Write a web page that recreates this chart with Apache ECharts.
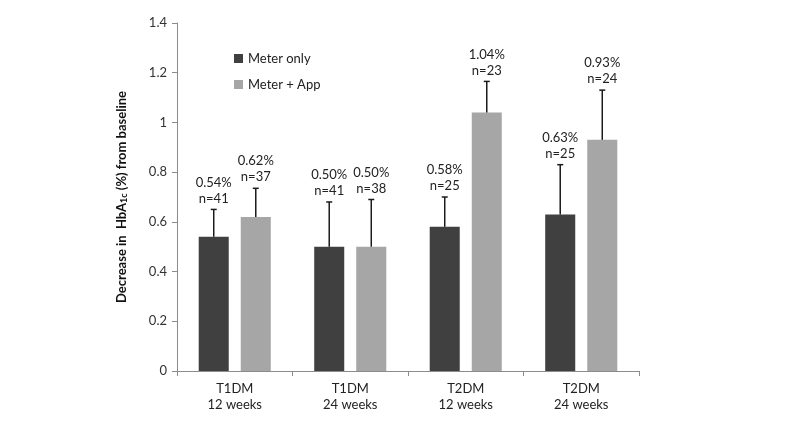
<!DOCTYPE html>
<html><head><meta charset="utf-8">
<script src="https://cdn.jsdelivr.net/npm/echarts@6/dist/echarts.min.js"></script>
<style>html,body{margin:0;padding:0;background:#fff}#c{width:794px;height:428px}</style>
</head><body><div id="c"></div>
<script>
var categories = ['T1DM\n12 weeks', 'T1DM\n24 weeks', 'T2DM\n12 weeks', 'T2DM\n24 weeks'];
var seriesNames = ['Meter only', 'Meter + App'];
var meterOnly = [0.54, 0.50, 0.58, 0.63];
var meterApp = [0.62, 0.50, 1.04, 0.93];
var meterOnlyErr = [0.11, 0.18, 0.12, 0.20];
var meterAppErr = [0.115, 0.19, 0.125, 0.20];
var meterOnlyN = [41, 41, 25, 25];
var meterAppN = [37, 38, 23, 24];
var yTicks = [0, 0.2, 0.4, 0.6, 0.8, 1, 1.2, 1.4];

var FONT = 'Lato';
var BARW = 0.26, GAP = 0.40;
var colors = ['#404040', '#a6a6a6'];

function errSeries(vals, errs, ns, sign) {
  return {
    type: 'custom',
    z: 5,
    data: vals.map(function (v, i) { return [i, v, errs[i], ns[i]]; }),
    renderItem: function (params, api) {
      var i = api.value(0), v = api.value(1), e = api.value(2), n = api.value(3);
      var band = api.size([1, 0])[0];
      var bw = band * BARW;
      var off = sign * (bw + bw * GAP) / 2;
      var p0 = api.coord([i, v]);
      var p1 = api.coord([i, v + e]);
      var x = p0[0] + off;
      return {
        type: 'group',
        children: [
          { type: 'line', shape: { x1: x, y1: p0[1], x2: x, y2: p1[1] }, style: { stroke: '#1a1a1a', lineWidth: 1.5 } },
          { type: 'line', shape: { x1: x - 3, y1: p1[1], x2: x + 3, y2: p1[1] }, style: { stroke: '#1a1a1a', lineWidth: 1.5 } },
          { type: 'text', style: { x: x, y: p1[1] - 3, text: v.toFixed(2) + '%\nn=' + n, textAlign: 'center', textVerticalAlign: 'bottom', fontFamily: FONT, fontSize: 13, lineHeight: 16, fill: '#222' } }
        ]
      };
    }
  };
}

var chart = echarts.init(document.getElementById('c'));
chart.setOption({
  animation: false,
  backgroundColor: '#fff',
  grid: { left: 177, top: 23, right: 155, bottom: 57, containLabel: false },
  legend: {
    orient: 'vertical', left: 229, top: 47, itemWidth: 9, itemHeight: 9, itemGap: 13, icon: 'rect',
    textStyle: { fontFamily: FONT, fontSize: 13, color: '#222' },
    data: seriesNames
  },
  xAxis: {
    type: 'category', data: categories,
    axisLine: { lineStyle: { color: '#8c8c8c', width: 1 } },
    axisTick: { show: true, length: 5, lineStyle: { color: '#8c8c8c' } },
    axisLabel: { fontFamily: FONT, fontSize: 13, color: '#222', lineHeight: 16, margin: 10 }
  },
  yAxis: {
    type: 'value', min: 0, max: 1.4, interval: 0.2,
    name: '{b|Decrease in  HbA}{s|1c}{b| (%) from baseline}',
    nameLocation: 'middle', nameGap: 48, nameRotate: 90,
    nameTextStyle: {
      rich: {
        b: { fontFamily: FONT, fontSize: 13, fontWeight: 'bold', color: '#111' },
        s: { fontFamily: FONT, fontSize: 9, fontWeight: 'bold', color: '#111', verticalAlign: 'bottom', padding: [6, 0, 0, 0] }
      }
    },
    axisLine: { show: true, lineStyle: { color: '#8c8c8c', width: 1 } },
    axisTick: { show: true, length: 5, lineStyle: { color: '#8c8c8c' } },
    splitLine: { show: false },
    axisLabel: {
      fontFamily: FONT, fontSize: 13, color: '#333', margin: 10,
      formatter: function (v) { return yTicks.indexOf(Math.round(v * 10) / 10) >= 0 ? String(Math.round(v * 10) / 10) : ''; }
    }
  },
  series: [
    { name: seriesNames[0], type: 'bar', data: meterOnly, barWidth: (BARW * 100) + '%', barGap: (GAP * 100) + '%', itemStyle: { color: colors[0] } },
    { name: seriesNames[1], type: 'bar', data: meterApp, barWidth: (BARW * 100) + '%', barGap: (GAP * 100) + '%', itemStyle: { color: colors[1] } },
    errSeries(meterOnly, meterOnlyErr, meterOnlyN, -1),
    errSeries(meterApp, meterAppErr, meterAppN, 1)
  ]
});
</script></body></html>
